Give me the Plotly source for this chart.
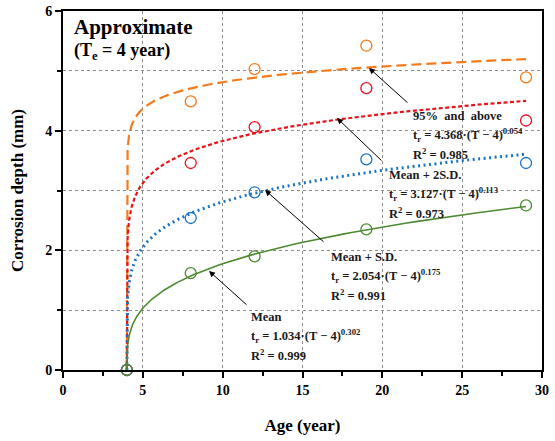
import numpy as np
import plotly.graph_objects as go

# ---------------- data ----------------
age = [4, 8, 12, 19, 29]
mean_depth = [0, 1.62, 1.90, 2.35, 2.75]
mean_sd_depth = [0, 2.54, 2.97, 3.52, 3.46]
mean_2sd_depth = [0, 3.46, 4.06, 4.71, 4.17]
p95_depth = [0, 4.49, 5.03, 5.42, 4.89]

# fitted power-law coefficients t_r = a*(T-Te)^b
Te = 4
fit_a = {"mean": 1.034, "sd": 2.054, "2sd": 3.127, "p95": 4.368}
fit_b = {"mean": 0.302, "sd": 0.175, "2sd": 0.113, "p95": 0.054}
fit_r2 = {"mean": 0.999, "sd": 0.991, "2sd": 0.973, "p95": 0.985}

x_ticks = [0, 5, 10, 15, 20, 25, 30]
y_ticks = [0, 2, 4, 6]

colors = {"mean": "#4f8a32", "sd": "#1a74c4", "2sd": "#e8141c", "p95": "#f47a1c"}
FONT = "Liberation Serif"

T = np.concatenate([[Te], Te + np.geomspace(1e-7, 25, 600)])

def fit(key):
    return fit_a[key] * (T - Te) ** fit_b[key]

fig = go.Figure()

line_styles = {
    "p95": dict(dash="10px,5px", width=2.2),
    "2sd": dict(dash="4px,2.5px", width=2.2),
    "sd": dict(dash="2px,3.5px", width=3),
    "mean": dict(dash="solid", width=1.6),
}
for key in ["p95", "2sd", "sd", "mean"]:
    fig.add_trace(go.Scatter(x=T, y=fit(key), mode="lines",
                             line=dict(color=colors[key], **line_styles[key]),
                             showlegend=False, hoverinfo="skip"))

for key, vals in [("p95", p95_depth), ("2sd", mean_2sd_depth),
                  ("sd", mean_sd_depth), ("mean", mean_depth)]:
    fig.add_trace(go.Scatter(x=age, y=vals, mode="markers",
                             marker=dict(symbol="circle-open", size=11,
                                         color=colors[key], line=dict(width=1.3)),
                             showlegend=False))

def px2x(px):
    return (px - 63) / (479 / 30)

def py2y(py):
    return (370 - py) / (359 / 6)

ann = []
# arrows (head, tail) in pixels
arrows = [((369, 68), (409, 104)),
          ((337, 118), (383, 162)),
          ((265, 190), (325, 243)),
          ((209, 271), (248, 306))]
for (hx, hy), (tx, ty) in arrows:
    ann.append(dict(x=px2x(hx), y=py2y(hy), ax=px2x(tx), ay=py2y(ty),
                    xref="x", yref="y", axref="x", ayref="y", text="",
                    showarrow=True, arrowhead=2, arrowsize=1.2, arrowwidth=1,
                    arrowcolor="black"))

def eq_lines(label, key, left, y0, dy=19):
    a, b, r2 = fit_a[key], fit_b[key], fit_r2[key]
    lines = [label,
             f"t<sub>r</sub> = {a:.3f}·(T − {Te})<sup>{b:.3f}</sup>",
             f"R<sup>2</sup> = {r2:.3f}"]
    for i, t in enumerate(lines):
        ann.append(dict(x=px2x(left), y=py2y(y0 + i * dy), xref="x", yref="y",
                        text=f"<b>{t}</b>", showarrow=False, xanchor="left",
                        yanchor="middle",
                        font=dict(family=FONT, size=12.5, color="#1a1a1a")))

eq_lines("95%  and  above", "p95", 411, 116)
eq_lines("Mean + 2S.D.", "2sd", 387, 175)
eq_lines("Mean + S.D.", "sd", 329, 257)
eq_lines("Mean", "mean", 249, 317)

ann.append(dict(x=px2x(72), y=py2y(27), xref="x", yref="y", text="<b>Approximate</b>",
                showarrow=False, xanchor="left", yanchor="middle",
                font=dict(family=FONT, size=21, color="black")))
ann.append(dict(x=px2x(72), y=py2y(51), xref="x", yref="y",
                text="<b>(T<sub>e</sub> = 4 year)</b>",
                showarrow=False, xanchor="left", yanchor="middle",
                font=dict(family=FONT, size=18, color="black")))

axis_common = dict(showline=True, linecolor="black", linewidth=1.8, mirror=True,
                   ticks="outside", ticklen=6, tickwidth=1.8, tickcolor="black",
                   showgrid=True, gridcolor="#8c8c8c", griddash="dot", gridwidth=1,
                   zeroline=False, automargin=False,
                   tickfont=dict(family=FONT, size=14, color="black"))

fig.update_xaxes(range=[0, 30], tickvals=x_ticks, ticktext=[f"<b>{v}</b>" for v in x_ticks],
                 minor=dict(dtick=2.5, tick0=0, ticklen=4, tickwidth=1.8,
                            ticks="outside", tickcolor="black", showgrid=False),
                 title=dict(text="<b>Age (year)</b>", standoff=22,
                            font=dict(family=FONT, size=17, color="black")),
                 **axis_common)
fig.update_yaxes(range=[0, 6], tickvals=y_ticks, ticktext=[f"<b>{v}</b>" for v in y_ticks],
                 minor=dict(dtick=1, tick0=0, ticklen=4, tickwidth=1.8,
                            ticks="outside", tickcolor="black", showgrid=True,
                            gridcolor="#8c8c8c", griddash="dot", gridwidth=1),
                 title=dict(text="<b>Corrosion depth (mm)</b>", standoff=17,
                            font=dict(family=FONT, size=17, color="black")),
                 **axis_common)

fig.update_layout(width=555, height=441, margin=dict(l=63, r=13, t=11, b=71),
                  paper_bgcolor="white", plot_bgcolor="white",
                  annotations=ann, showlegend=False)
fig.update_traces(cliponaxis=False, selector=dict(mode="markers"))

fig.write_html("out.html", config={"displayModeBar": False},
               post_script="document.body.style.margin='0';")
